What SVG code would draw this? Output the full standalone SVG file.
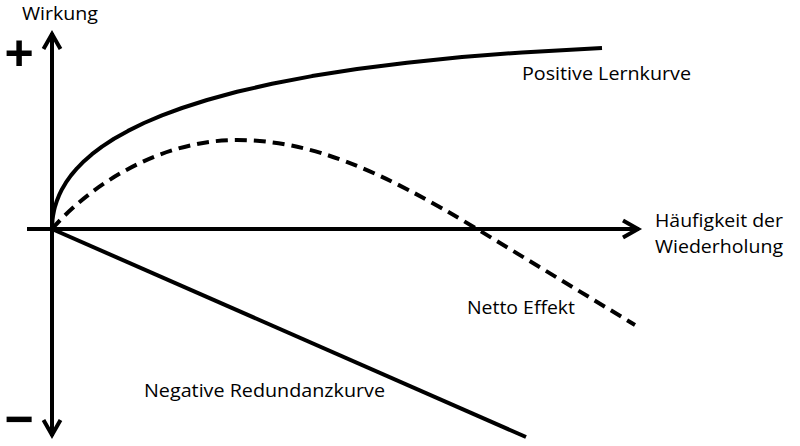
<svg xmlns="http://www.w3.org/2000/svg" width="800" height="446" viewBox="0 0 800 446">
<style>
.ax{fill:none;stroke:#000;stroke-width:4;}
.cv{fill:none;stroke:#000;stroke-width:4;stroke-linejoin:round;}
.ds{stroke-dasharray:12 7;}
.t{font-family:"Open Sans","Liberation Sans",sans-serif;font-size:18.5px;fill:#000;}
.s{font-family:"Liberation Sans",Arial,sans-serif;font-size:50px;font-weight:bold;fill:#000;}
</style>
<defs>
<marker id="arr" markerUnits="userSpaceOnUse" markerWidth="30" markerHeight="30" refX="20" refY="15" orient="auto">
<path d="M4,6.5 L19,15 L4,23.5" fill="none" stroke="#000" stroke-width="4"/>
</marker>
</defs>
<rect width="800" height="446" fill="#fff"/>
<g id="connectors">
<line class="ax" x1="52" y1="229" x2="52" y2="33" marker-end="url(#arr)"/>
<line class="ax" x1="52" y1="229" x2="52" y2="436" marker-end="url(#arr)"/>
<line class="ax" x1="27" y1="229" x2="639" y2="229" marker-end="url(#arr)"/>
</g>
<g id="positive-curve">
<path class="cv" d="M52,229 L52.5,219.7 L53,215.9 L54,210.6 L55,206.6 L57,200.4 L59,195.4 L62,189.2 L66,182.4 L71,175.4 L77,168.3 L84,161.2 L92,154.2 L102,146.6 L114,138.8 L128,130.9 L144,123 L162,115.4 L182,108 L207,100 L237,91.8 L272,83.8 L312,76.1 L357,69.1 L407,62.7 L462,57.1 L522,52.4 L602,47.9"/>
<text class="t" x="522" y="80" textLength="169" lengthAdjust="spacingAndGlyphs">Positive Lernkurve</text>
</g>
<g id="net-effect">
<path class="cv ds" d="M52,229 C95,180 165,140 237,140 C310,140 380,170 477,229 L635,325"/>
<text class="t" x="467" y="314" textLength="108" lengthAdjust="spacingAndGlyphs">Netto Effekt</text>
</g>
<g id="negative-curve">
<line class="cv" x1="52" y1="229" x2="526" y2="437"/>
<text class="t" x="144" y="397" textLength="241" lengthAdjust="spacingAndGlyphs">Negative Redundanzkurve</text>
</g>
<g id="y-axis-label">
<text class="t" x="22" y="20" textLength="76" lengthAdjust="spacingAndGlyphs">Wirkung</text>
<text class="s" x="19" y="70" text-anchor="middle">+</text>
<text class="s" x="19" y="436" text-anchor="middle">−</text>
</g>
<g id="x-axis-label">
<text class="t" x="655" y="227" textLength="128" lengthAdjust="spacingAndGlyphs">Häufigkeit der</text>
<text class="t" x="655" y="253" textLength="128" lengthAdjust="spacingAndGlyphs">Wiederholung</text>
</g>
</svg>
